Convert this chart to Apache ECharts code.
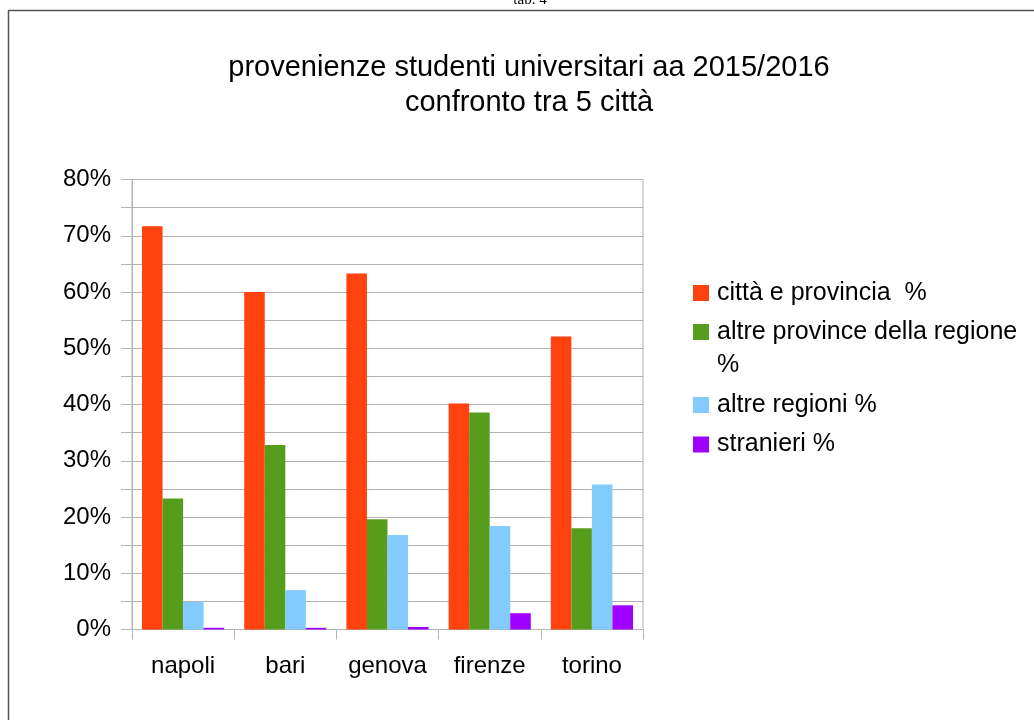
<!DOCTYPE html>
<html>
<head>
<meta charset="utf-8">
<script src="https://cdn.jsdelivr.net/npm/echarts@6/dist/echarts.min.js"></script>
<style>
html,body{margin:0;padding:0;background:#fff;}
#chart{width:1034px;height:720px;}
</style>
</head>
<body>
<div id="chart"></div>
<script>
var categories = ['napoli', 'bari', 'genova', 'firenze', 'torino'];
var seriesNames = ['città e provincia  %', 'altre province della regione %', 'altre regioni %', 'stranieri %'];
var cittaProvincia = [71.7, 60.0, 63.3, 40.2, 52.1];
var altreProvince = [23.3, 32.8, 19.6, 38.6, 18.0];
var altreRegioni = [4.9, 7.0, 16.8, 18.4, 25.8];
var stranieri = [0.3, 0.3, 0.45, 2.9, 4.3];
var colors = ['#ff420e', '#579d1c', '#83caff', '#a000ff'];
var yTicks = [0, 10, 20, 30, 40, 50, 60, 70, 80];

var FONT = 'Liberation Sans, Arial, sans-serif';
var chart = echarts.init(document.getElementById('chart'));
var allValues = [cittaProvincia, altreProvince, altreRegioni, stranieri];

// one legend block per entry so the square lines up with the first text line
var legendTops = [276.5, 315.5, 388.5, 428];
var legends = seriesNames.map(function (name, i) {
  var wrapped = (i === 1);
  return {
    orient: 'vertical',
    left: 693,
    top: legendTops[i],
    padding: 0,
    icon: wrapped ? 'path://M0,0H16V16H0Z M0,48.9H0.1V49H0Z' : 'rect',
    itemWidth: 16,
    itemHeight: wrapped ? 49 : 16,
    selectedMode: false,
    data: [name],
    textStyle: {fontFamily: FONT, fontSize: 25, color: '#000', lineHeight: 33, width: 318, overflow: 'break', padding: [0, 0, 0, 3]}
  };
});

chart.setOption({
  animation: false,
  backgroundColor: '#ffffff',
  title: {
    text: 'provenienze studenti universitari aa 2015/2016\nconfronto tra 5 città',
    left: 529,
    top: 50.5,
    padding: 0,
    textAlign: 'center',
    textStyle: {fontFamily: FONT, fontSize: 29, fontWeight: 'normal', color: '#000', lineHeight: 35}
  },
  legend: legends,
  grid: {
    left: 132, right: 391, top: 179.5, bottom: 90.5,
    show: true, borderColor: '#b3b3b3', borderWidth: 1, containLabel: false
  },
  xAxis: {
    type: 'category',
    data: categories,
    axisLine: {lineStyle: {color: '#b3b3b3'}},
    axisTick: {show: true, length: 10, lineStyle: {color: '#b3b3b3'}},
    axisLabel: {fontFamily: FONT, fontSize: 24, color: '#000', margin: 25, interval: 0}
  },
  yAxis: {
    type: 'value',
    min: 0, max: 80, interval: 5,
    axisLine: {show: true, lineStyle: {color: '#b3b3b3'}},
    axisTick: {show: true, length: 11, lineStyle: {color: '#b3b3b3'}},
    splitLine: {show: true, lineStyle: {color: '#b3b3b3', width: 1}},
    axisLabel: {
      fontFamily: FONT, fontSize: 24, color: '#000', margin: 21,
      formatter: function (v) { return yTicks.indexOf(v) >= 0 ? v + '%' : ''; }
    }
  },
  graphic: [
    {type: 'line', shape: {x1: 8, y1: 10.5, x2: 1034, y2: 10.5}, style: {stroke: '#555', lineWidth: 1.5}, silent: true},
    {type: 'line', shape: {x1: 8.5, y1: 10, x2: 8.5, y2: 720}, style: {stroke: '#555', lineWidth: 1.5}, silent: true},
    {type: 'text', x: 530, y: 8, style: {text: 'tab. 4', fontFamily: 'Liberation Serif, DejaVu Serif, serif', fontSize: 15, fill: '#000', align: 'center', verticalAlign: 'bottom'}, silent: true}
  ],
  series: seriesNames.map(function (name, i) {
    return {
      name: name,
      type: 'bar',
      data: allValues[i],
      barGap: '0%',
      barCategoryGap: '19.6%',
      itemStyle: {color: colors[i]},
      emphasis: {disabled: true}
    };
  })
});
</script>
</body>
</html>
